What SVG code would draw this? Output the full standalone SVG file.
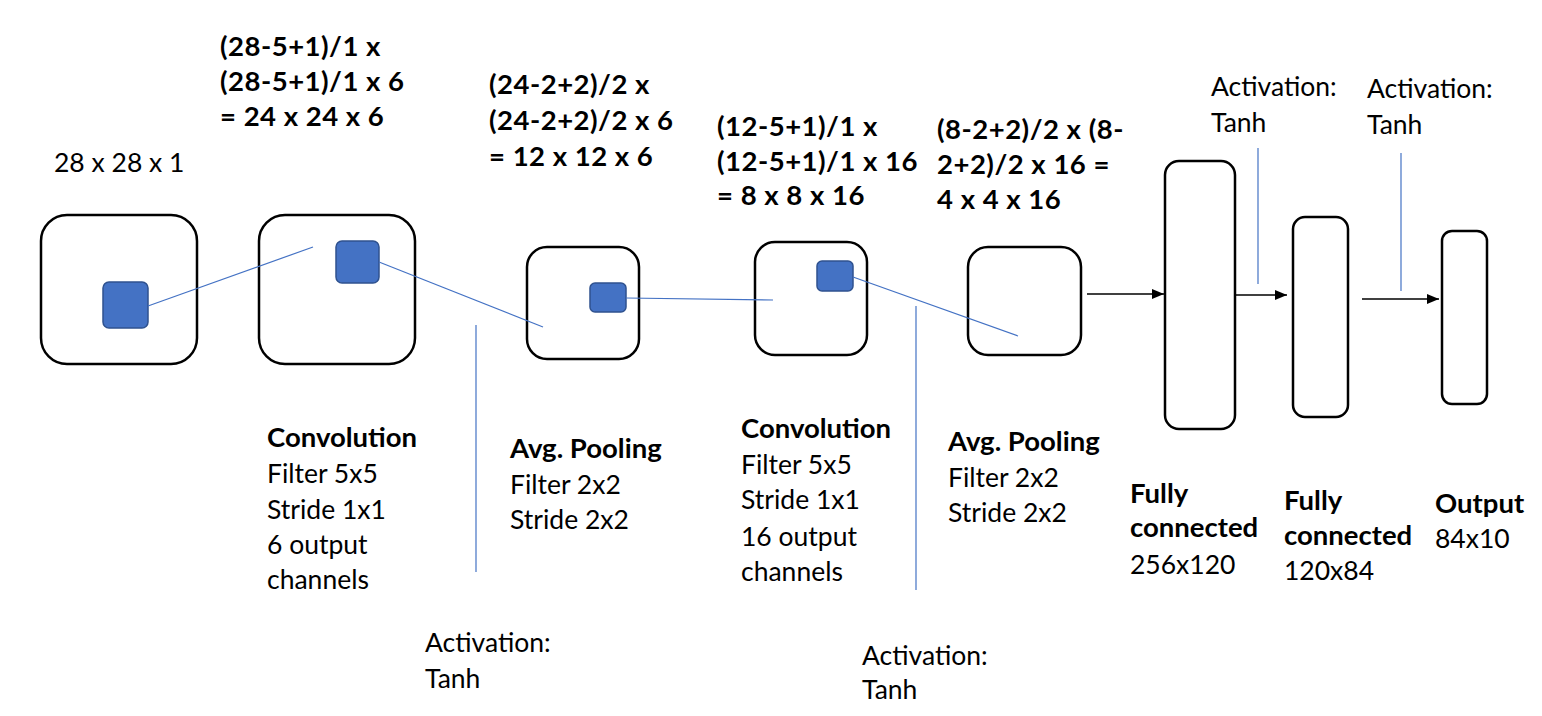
<svg xmlns="http://www.w3.org/2000/svg" width="1542" height="716" viewBox="0 0 1542 716">
<style>
.box{fill:#fff;stroke:#000;stroke-width:2.5}
.blue{fill:#4472C4;stroke:#2F528F;stroke-width:1.5}
.bl{stroke:#4472C4;stroke-width:1.2;fill:none}
.ar{stroke:#000;stroke-width:1.3;fill:none;marker-end:url(#ah)}
text{font-family:Lato,"Open Sans","Liberation Sans",sans-serif;font-size:26.5px;fill:#000}
.b{font-weight:bold;font-size:27.5px}
.f{font-weight:bold;font-size:27.5px;letter-spacing:0.5px}
</style>
<defs>
<marker id="ah" viewBox="0 0 12 10" refX="12" refY="5" markerWidth="12" markerHeight="10" markerUnits="userSpaceOnUse" orient="auto">
<path d="M0,0 L12,5 L0,10 z" fill="#000"/>
</marker>
</defs>
<rect width="1542" height="716" fill="#fff"/>

<g id="input">
<rect class="box" x="41" y="215" width="156" height="149" rx="26"/>
<rect class="blue" x="103" y="282" width="45" height="46" rx="6"/>
<text x="54" y="172">28 x 28 x 1</text>
</g>

<g id="conv1">
<rect class="box" x="259" y="215" width="156" height="149" rx="26"/>
<rect class="blue" x="336" y="241" width="43" height="42" rx="6"/>
<text class="f" x="220"><tspan x="220" y="56">(28-5+1)/1 x</tspan><tspan x="220" y="91">(28-5+1)/1 x 6</tspan><tspan x="220" y="126">= 24 x 24 x 6</tspan></text>
<text x="267"><tspan class="b" x="267" y="447">Convolution</tspan><tspan x="267" y="483">Filter 5x5</tspan><tspan x="267" y="519">Stride 1x1</tspan><tspan x="267" y="554">6 output</tspan><tspan x="267" y="589">channels</tspan></text>
</g>

<g id="act1">
<text x="425"><tspan x="425" y="652">Activation:</tspan><tspan x="425" y="688">Tanh</tspan></text>
</g>

<g id="pool1">
<rect class="box" x="527" y="247" width="112" height="112" rx="20"/>
<rect class="blue" x="590" y="283" width="36" height="29" rx="5"/>
<text class="f" x="489"><tspan x="489" y="94">(24-2+2)/2 x</tspan><tspan x="489" y="130">(24-2+2)/2 x 6</tspan><tspan x="489" y="166">= 12 x 12 x 6</tspan></text>
<text x="510"><tspan class="b" x="510" y="458">Avg. Pooling</tspan><tspan x="510" y="494">Filter 2x2</tspan><tspan x="510" y="529">Stride 2x2</tspan></text>
</g>

<g id="conv2">
<rect class="box" x="755" y="242" width="112" height="113" rx="20"/>
<rect class="blue" x="817" y="261" width="36" height="30" rx="5"/>
<text class="f" x="717"><tspan x="717" y="136">(12-5+1)/1 x</tspan><tspan x="717" y="171">(12-5+1)/1 x 16</tspan><tspan x="717" y="205">= 8 x 8 x 16</tspan></text>
<text x="741"><tspan class="b" x="741" y="438">Convolution</tspan><tspan x="741" y="474">Filter 5x5</tspan><tspan x="741" y="509">Stride 1x1</tspan><tspan x="741" y="546">16 output</tspan><tspan x="741" y="581">channels</tspan></text>
</g>

<g id="act2">
<text x="862"><tspan x="862" y="665">Activation:</tspan><tspan x="862" y="699">Tanh</tspan></text>
</g>

<g id="pool2">
<rect class="box" x="968" y="247" width="113" height="108" rx="20"/>
<text class="f" x="937"><tspan x="937" y="139">(8-2+2)/2 x (8-</tspan><tspan x="937" y="174">2+2)/2 x 16 =</tspan><tspan x="937" y="209">4 x 4 x 16</tspan></text>
<text x="948"><tspan class="b" x="948" y="451">Avg. Pooling</tspan><tspan x="948" y="487">Filter 2x2</tspan><tspan x="948" y="522">Stride 2x2</tspan></text>
</g>

<g id="fc1">
<rect class="box" x="1165" y="161" width="70" height="268" rx="14"/>
<text x="1130"><tspan class="b" x="1130" y="503">Fully</tspan><tspan class="b" x="1130" y="537">connected</tspan><tspan x="1130" y="574">256x120</tspan></text>
</g>

<g id="act3">
<text x="1211"><tspan x="1211" y="96">Activation:</tspan><tspan x="1211" y="132">Tanh</tspan></text>
</g>

<g id="fc2">
<rect class="box" x="1293" y="217" width="55" height="200" rx="12"/>
<text x="1284"><tspan class="b" x="1284" y="510">Fully</tspan><tspan class="b" x="1284" y="545">connected</tspan><tspan x="1284" y="580">120x84</tspan></text>
</g>

<g id="act4">
<text x="1367"><tspan x="1367" y="98">Activation:</tspan><tspan x="1367" y="134">Tanh</tspan></text>
</g>

<g id="output">
<rect class="box" x="1442" y="231" width="45" height="173" rx="10"/>
<text x="1435"><tspan class="b" x="1435" y="513">Output</tspan><tspan x="1435" y="548">84x10</tspan></text>
</g>

<g id="connectors">
<line class="bl" x1="148" y1="306" x2="313" y2="247"/>
<line class="bl" x1="379" y1="262" x2="543" y2="327"/>
<line class="bl" x1="626" y1="298" x2="773" y2="300"/>
<line class="bl" x1="853" y1="277" x2="1018" y2="336"/>
<line class="bl" x1="476" y1="325" x2="476" y2="572"/>
<line class="bl" x1="916" y1="306" x2="916" y2="590"/>
<line class="bl" x1="1258" y1="148" x2="1258" y2="284"/>
<line class="bl" x1="1401" y1="153" x2="1401" y2="291"/>
<line class="ar" x1="1087" y1="294" x2="1164" y2="294"/>
<line class="ar" x1="1236" y1="295" x2="1287" y2="295"/>
<line class="ar" x1="1362" y1="299" x2="1439" y2="299"/>
</g>
</svg>
